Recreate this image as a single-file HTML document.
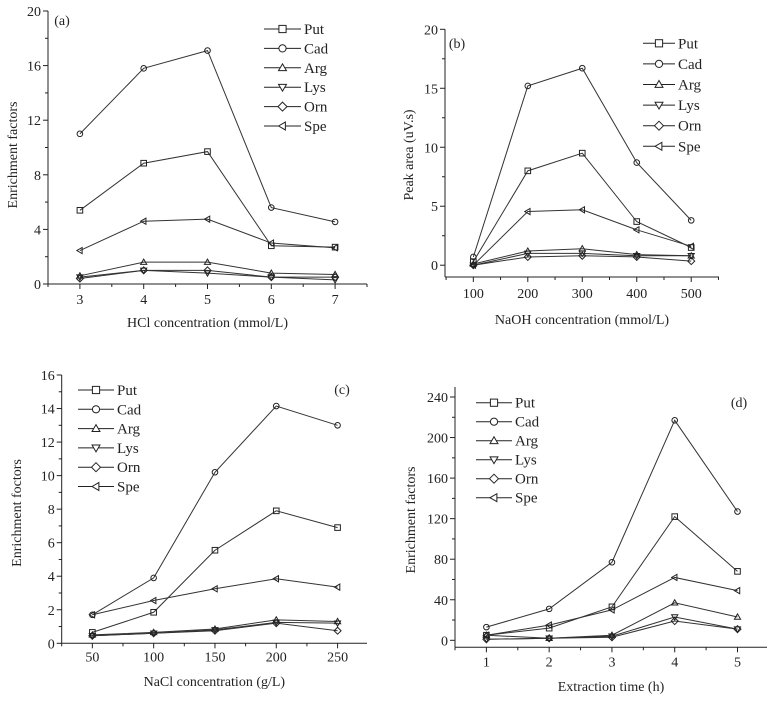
<!DOCTYPE html>
<html><head><meta charset="utf-8"><style>
html,body{margin:0;padding:0;background:#fff}
svg{display:block;font-family:"Liberation Serif",serif}
</style></head><body>
<svg id="c" width="768" height="701" viewBox="0 0 768 701"></svg>
<script>
const names = ["Put","Cad","Arg","Lys","Orn","Spe"];
const markers = ["square","circle","up","down","diamond","left"];
// Panel a
const aX = [3,4,5,6,7];
const aPut = [5.4,8.85,9.7,2.8,2.7];
const aCad = [11.0,15.8,17.1,5.6,4.55];
const aArg = [0.6,1.6,1.6,0.8,0.7];
const aLys = [0.5,1.0,0.8,0.5,0.3];
const aOrn = [0.4,1.0,1.0,0.5,0.5];
const aSpe = [2.45,4.6,4.75,3.0,2.65];
const aYTicks = [0,4,8,12,16,20];
// Panel b
const bX = [100,200,300,400,500];
const bPut = [0.3,8.0,9.5,3.7,1.5];
const bCad = [0.7,15.2,16.7,8.7,3.8];
const bArg = [0.1,1.2,1.4,0.9,0.8];
const bLys = [0.0,1.0,1.0,0.8,0.8];
const bOrn = [0.0,0.7,0.8,0.7,0.35];
const bSpe = [0.0,4.55,4.7,3.0,1.6];
const bYTicks = [0,5,10,15,20];
// Panel c
const cX = [50,100,150,200,250];
const cPut = [0.65,1.85,5.55,7.9,6.9];
const cCad = [1.7,3.9,10.2,14.15,13.0];
const cArg = [0.5,0.65,0.85,1.4,1.3];
const cLys = [0.45,0.6,0.8,1.25,1.2];
const cOrn = [0.45,0.6,0.75,1.2,0.75];
const cSpe = [1.7,2.55,3.25,3.85,3.35];
const cYTicks = [0,2,4,6,8,10,12,14,16];
// Panel d
const dX = [1,2,3,4,5];
const dPut = [5,12,33,122,68];
const dCad = [13,31,77,217,127];
const dArg = [5,2,5,37,23];
const dLys = [1,2,4,23,11];
const dOrn = [1,2,3,19,11];
const dSpe = [5,15,30,62,49];
const dYTicks = [0,40,80,120,160,200,240];

const NS="http://www.w3.org/2000/svg";
const svg=document.getElementById('c');
function el(tag,attrs,parent){const e=document.createElementNS(NS,tag);for(const k in attrs)e.setAttribute(k,attrs[k]);(parent||svg).appendChild(e);return e;}
function marker(g,type,x,y,r){
  let e;
  if(type==="square") e=el('rect',{x:x-r,y:y-r,width:2*r,height:2*r},g);
  else if(type==="circle") e=el('circle',{cx:x,cy:y,r:r},g);
  else if(type==="up") e=el('polygon',{points:`${x},${y-r*1.1} ${x-r*1.1},${y+r*0.8} ${x+r*1.1},${y+r*0.8}`},g);
  else if(type==="down") e=el('polygon',{points:`${x},${y+r*1.1} ${x-r*1.1},${y-r*0.8} ${x+r*1.1},${y-r*0.8}`},g);
  else if(type==="diamond") e=el('polygon',{points:`${x},${y-r*1.25} ${x+r*1.25},${y} ${x},${y+r*1.25} ${x-r*1.25},${y}`},g);
  else e=el('polygon',{points:`${x-r*1.1},${y} ${x+r*0.8},${y-r*1.1} ${x+r*0.8},${y+r*1.1}`},g);
  e.setAttribute('fill','none');e.setAttribute('stroke','#222');e.setAttribute('stroke-width','1');
  return e;
}
function panel(p){
  const g=el('g',{});
  
  
  const sx=v=>p.x0+(v-p.xmin)/(p.xmax-p.xmin)*(p.x1-p.x0);
  const sy=v=>p.y0-(v-p.ymin)/(p.ymax-p.ymin)*(p.y0-p.y1);
  const ax=el('g',{stroke:'#222','stroke-width':'1',fill:'none'},g);
  
  el('line',{x1:p.x0,y1:p.yTop,x2:p.x0,y2:p.y0},ax);
  el('line',{x1:p.x0,y1:p.y0,x2:p.x1,y2:p.y0},ax);
  const step=p.xs[1]-p.xs[0];
  for(let v=p.xs[0]-step/2; v<=p.xmax; v+=step/2){
    const X=sx(v); if(X<p.x0-0.5||X>p.x1+0.5) continue;
    const major=p.xs.some(t=>Math.abs(t-v)<1e-6);
    el('line',{x1:X,y1:p.y0,x2:X,y2:p.y0+(major?5:3)},ax);
  }
  p.xs.forEach(v=>{const t=el('text',{x:sx(v),y:p.y0+p.tickDy,'text-anchor':'middle','font-size':'14',fill:'#222'},g);t.textContent=v;
    });
  const ys=p.yt[1]-p.yt[0];
  for(let v=p.yt[0]; v<=p.yt[p.yt.length-1]+1e-6; v+=ys/2){
    const major=p.yt.some(t=>Math.abs(t-v)<1e-6);
    el('line',{x1:p.x0,y1:sy(v),x2:p.x0-(major?5:3),y2:sy(v)},ax);
  }
  p.yt.forEach(v=>{const t=el('text',{x:p.x0-7,y:sy(v)+5,'text-anchor':'end','font-size':'14',fill:'#222'},g);t.textContent=v;
    });
  const xl=el('text',{x:(p.x0+p.x1)/2,y:p.xLabY,'text-anchor':'middle','font-size':'14',fill:'#222'},g);xl.textContent=p.xLabel;
  
  const yl=el('text',{x:0,y:0,'text-anchor':'middle','font-size':'14',fill:'#222',transform:`translate(${p.yLabX},${p.yLabY}) rotate(-90)`},g);yl.textContent=p.yLabel;
  
  const pl=el('text',{x:p.plX,y:p.plY,'font-size':'14',fill:'#222','text-anchor':'middle'},g);pl.textContent=p.label;
  
  p.series.forEach((s,i)=>{
    const sg=el('g',{},g);
    
    
    const pts=s.map((v,j)=>sx(p.xs[j])+','+sy(v)).join(' ');
    el('polyline',{points:pts,fill:'none',stroke:'#333','stroke-width':'1'},sg);
    s.forEach((v,j)=>marker(sg,markers[i],sx(p.xs[j]),sy(v),2.8));
    const lg=el('g',{},g);
    
    
    const ly=p.legY+i*p.legDy;
    el('line',{x1:p.legX,y1:ly,x2:p.legX+p.legW,y2:ly,stroke:'#222','stroke-width':'1'},lg);
    const m=marker(lg,markers[i],p.legX+p.legW/2,ly,3.6);m.setAttribute('fill','#fff');
    const t=el('text',{x:p.legX+p.legW+3,y:ly+5,'font-size':'15',fill:'#222'},lg);t.textContent=names[i];
  });
}
panel({id:'a',label:'(a)',plX:62,plY:25,x0:48,x1:367,xmin:2.5,xmax:7.5,y0:284,y1:11,yTop:11,ymin:0,ymax:20,xs:aX,yt:aYTicks,
  series:[aPut,aCad,aArg,aLys,aOrn,aSpe],tickDy:20,xLabel:'HCl concentration (mmol/L)',xLabY:327,yLabel:'Enrichment factors',yLabX:17,yLabY:155,
  legX:264,legW:37,legY:29,legDy:19.4});
panel({id:'b',label:'(b)',plX:457,plY:48,x0:445,x1:719,xmin:48,xmax:551,y0:277,y1:29.3,yTop:29.3,ymin:-1,ymax:20,xs:bX,yt:bYTicks,
  series:[bPut,bCad,bArg,bLys,bOrn,bSpe],tickDy:21,xLabel:'NaOH concentration (mmol/L)',xLabY:324,yLabel:'Peak area (uV.s)',yLabX:413,yLabY:155,
  legX:643,legW:32,legY:43.3,legDy:20.6});
panel({id:'c',label:'(c)',plX:342,plY:394,x0:61.7,x1:367,xmin:25,xmax:274,y0:643.3,y1:375,yTop:375,ymin:0,ymax:16,xs:cX,yt:cYTicks,
  series:[cPut,cCad,cArg,cLys,cOrn,cSpe],tickDy:18,xLabel:'NaCl concentration (g/L)',xLabY:686,yLabel:'Enrichment foctors',yLabX:21,yLabY:513,
  legX:78,legW:36,legY:390,legDy:19.3});
panel({id:'d',label:'(d)',plX:739,plY:407,x0:455,x1:767,xmin:0.5,xmax:5.47,y0:647.3,y1:397,yTop:387,ymin:-6.9,ymax:240,xs:dX,yt:dYTicks,
  series:[dPut,dCad,dArg,dLys,dOrn,dSpe],tickDy:19,xLabel:'Extraction time (h)',xLabY:691,yLabel:'Enrichment factors',yLabX:415,yLabY:520,
  legX:476,legW:36,legY:402.7,legDy:19});
</script>
</body></html>
